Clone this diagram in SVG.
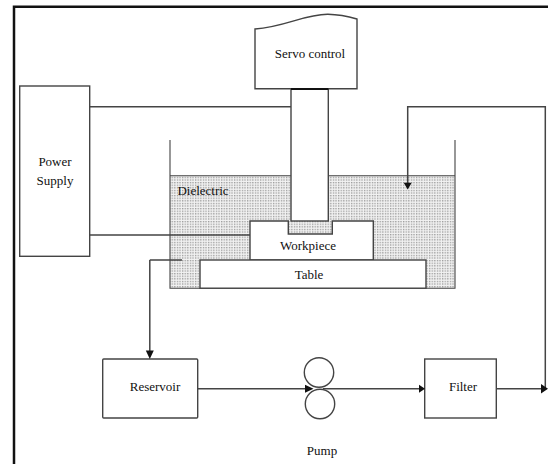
<svg xmlns="http://www.w3.org/2000/svg" width="548" height="464" viewBox="0 0 548 464">
<style>
.n{fill:#fff;stroke:#444;stroke-width:1.4}
.c{fill:none;stroke:#444;stroke-width:1.5}
.a{fill:#111}
text{font-family:"Liberation Serif","Times New Roman",serif;font-size:13px;fill:#111;text-anchor:middle}
</style>
<defs>
<pattern id="d" width="2.600" height="2.600" patternUnits="userSpaceOnUse"><rect width="2.600" height="2.600" fill="#f2f2f2"/><rect x="0" y="0" width="1.300" height="1.300" fill="#999"/></pattern>
</defs>
<rect width="548" height="464" fill="#fff"/>
<path d="M14 464V6.700H548" fill="none" stroke="#111" stroke-width="2.500"/>
<g id="tank">
<rect x="170" y="175.700" width="285" height="112.500" fill="url(#d)"/>
<path class="c" d="M170 140V288.200H455V140M170 175.700H291M328 175.700H455" style="stroke-width:1.100"/>
<text x="203" y="195">Dielectric</text>
</g>
<g id="servo"><path class="n" d="M255 29C285 27 305 14 328 14.300C338 14.500 350 17 357 19V88.700H255Z"/><text x="310" y="58">Servo control</text></g>
<g id="workpiece"><path class="n" d="M250 221H288.300V234H332.300V221H373.300V260H250Z"/><text x="308" y="250">Workpiece</text></g>
<g id="spindle"><rect class="n" x="291" y="89" width="37.300" height="132"/><path d="M291 89H328.300" stroke="#111" stroke-width="2"/></g>
<g id="table"><rect class="n" x="200" y="260" width="226" height="28.200"/><text x="309" y="279">Table</text></g>
<g id="power"><rect class="n" x="19.700" y="86" width="70" height="170.300"/><text x="55" y="166">Power</text><text x="55" y="185">Supply</text></g>
<g id="reservoir"><rect class="n" x="102.700" y="359" width="95" height="59" rx="1"/><text x="155" y="391">Reservoir</text></g>
<g id="pump"><circle class="n" cx="319" cy="372.500" r="14.700"/><circle class="n" cx="320" cy="404" r="14.700"/><text x="322" y="455">Pump</text></g>
<g id="filter"><rect class="n" x="424.700" y="359" width="71.600" height="59"/><text x="463" y="391">Filter</text></g>
<g id="connectors">
<path class="c" d="M89.700 106.800H291M89.700 235H250M149.800 260H182M149.800 260V352M197.700 388.700H308M323 388.700H420M496.300 388.700H542M545.300 388V106.800H407.700V184"/>
<path class="a" d="M145.800 350.500H153.800L149.800 359ZM403.700 182.700H411.700L407.700 189.500ZM305 384.700L313.500 388.700L305 392.700ZM419 384.700L425 388.700L419 392.700ZM541 384L548 388.700L541 393.400Z"/>
</g>
</svg>
